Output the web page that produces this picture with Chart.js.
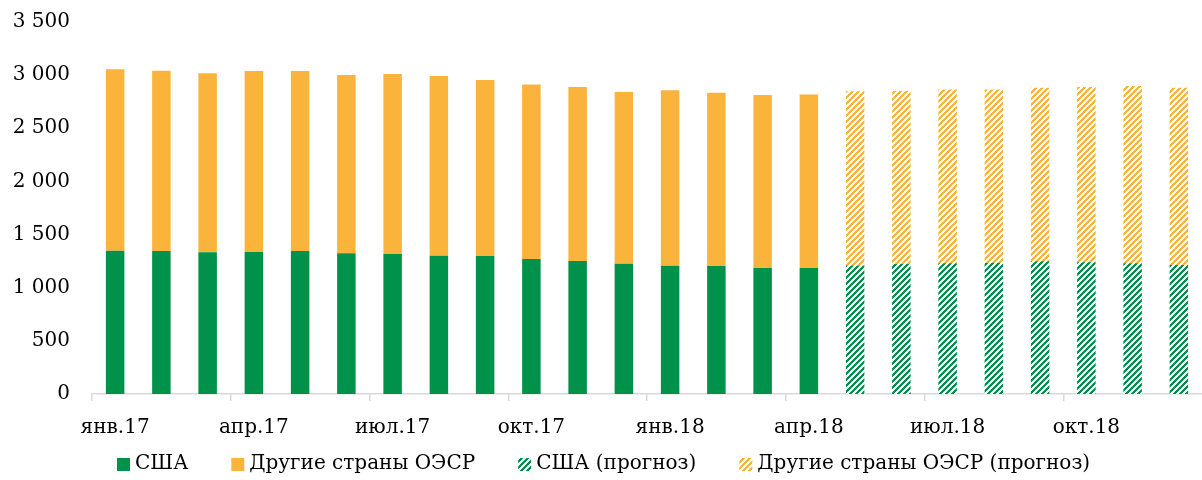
<!DOCTYPE html>
<html>
<head>
<meta charset="utf-8">
<script src="https://cdn.jsdelivr.net/npm/chart.js@4/dist/chart.umd.min.js"></script>
<style>
  html, body { margin: 0; padding: 0; background: #ffffff; }
  #wrap { width: 1202px; height: 480px; }
</style>
</head>
<body>
<div id="wrap"><canvas id="c" width="1202" height="480"></canvas></div>
<script>
const categories = ['янв.17','фев.17','мар.17','апр.17','май.17','июн.17','июл.17','авг.17','сен.17','окт.17','ноя.17','дек.17',
                    'янв.18','фев.18','мар.18','апр.18','май.18','июн.18','июл.18','авг.18','сен.18','окт.18','ноя.18','дек.18'];
const usaActual   = [1348,1345,1333,1336,1345,1324,1317,1301,1298,1270,1251,1226,1207,1204,1185,1185,null,null,null,null,null,null,null,null];
const otherActual = [1707,1697,1684,1703,1694,1677,1693,1691,1656,1643,1637,1615,1650,1631,1628,1634,null,null,null,null,null,null,null,null];
const usaForecast   = [null,null,null,null,null,null,null,null,null,null,null,null,null,null,null,null,1210,1223,1229,1235,1248,1239,1229,1214];
const otherForecast = [null,null,null,null,null,null,null,null,null,null,null,null,null,null,null,null,1638,1628,1637,1631,1633,1649,1668,1667];
const yTicks = [0,500,1000,1500,2000,2500,3000,3500];
const seriesNames = ['США','Другие страны ОЭСР','США (прогноз)','Другие страны ОЭСР (прогноз)'];

const GREEN = '#00924a';
const ORANGE = '#fbb43b';

function hatch(color) {
  const size = 6;
  const c = document.createElement('canvas');
  c.width = size; c.height = size;
  const g = c.getContext('2d');
  const img = g.createImageData(size, size);
  const r = parseInt(color.slice(1,3),16), gg = parseInt(color.slice(3,5),16), b = parseInt(color.slice(5,7),16);
  for (let y = 0; y < size; y++) {
    for (let x = 0; x < size; x++) {
      const i = (y*size + x)*4;
      const on = ((x + y) % size) < 3;
      img.data[i] = on ? r : 255;
      img.data[i+1] = on ? gg : 255;
      img.data[i+2] = on ? b : 255;
      img.data[i+3] = 255;
    }
  }
  g.putImageData(img, 0, 0);
  return document.getElementById('c').getContext('2d').createPattern(c, 'repeat');
}

const FONT = '"DejaVu Serif", serif';
const FONT_SIZE = 20;
const fmt = v => String(v).replace(/\B(?=(\d{3})+(?!\d))/g, ' ');

const bottomLegend = {
  id: 'bottomLegend',
  afterDraw(chart) {
    const ctx = chart.ctx;
    const box = 13, boxGap = 5, itemGap = 43;
    const yc = 464;
    ctx.save();
    ctx.font = FONT_SIZE + 'px ' + FONT;
    ctx.textBaseline = 'middle';
    ctx.textAlign = 'left';
    const items = chart.data.datasets.map(ds => ({ text: ds.label, fill: ds.backgroundColor, w: ctx.measureText(ds.label).width }));
    let total = 0;
    items.forEach((it, i) => { total += box + boxGap + it.w + (i < items.length - 1 ? itemGap : 0); });
    let x = Math.round(604 - total / 2);
    items.forEach(it => {
      ctx.fillStyle = it.fill;
      ctx.fillRect(x, yc - 6, box, box);
      x += box + boxGap;
      ctx.fillStyle = '#000';
      ctx.fillText(it.text, x, yc);
      x += it.w + itemGap;
    });
    ctx.restore();
  }
};

new Chart(document.getElementById('c'), {
  type: 'bar',
  data: {
    labels: categories,
    datasets: [
      { label: seriesNames[0], data: usaActual, backgroundColor: GREEN },
      { label: seriesNames[1], data: otherActual, backgroundColor: ORANGE },
      { label: seriesNames[2], data: usaForecast, backgroundColor: hatch(GREEN) },
      { label: seriesNames[3], data: otherForecast, backgroundColor: hatch(ORANGE) }
    ]
  },
  plugins: [bottomLegend],
  options: {
    responsive: false,
    animation: false,
    devicePixelRatio: 1,
    layout: { padding: { top: 22, right: 0, left: 13, bottom: 43 } },
    datasets: { bar: { categoryPercentage: 1.0, barPercentage: 0.4, borderWidth: 0 } },
    scales: {
      x: {
        stacked: true,
        offset: true,
        afterFit: s => { s.height = 43; s.paddingLeft = 0; s.paddingRight = 0; },
        border: { display: true, color: '#d9d9d9', width: 1.5 },
        grid: {
          offset: true,
          drawOnChartArea: false,
          drawTicks: true,
          tickLength: 7,
          lineWidth: 1.5,
          color: ctx => (ctx.index % 3 === 0 ? '#d9d9d9' : 'rgba(0,0,0,0)')
        },
        ticks: {
          autoSkip: false,
          maxRotation: 0,
          padding: 15,
          color: '#000',
          font: { family: FONT, size: FONT_SIZE },
          callback: (v, i) => (i % 3 === 0 ? categories[i] : '')
        }
      },
      y: {
        stacked: true,
        min: 0,
        max: 3500,
        afterFit: s => { s.width = 79; s.paddingTop = 0; s.paddingBottom = 0; },
        border: { display: false },
        grid: { display: false, drawTicks: false },
        afterBuildTicks: axis => { axis.ticks = yTicks.map(v => ({ value: v })); },
        ticks: {
          padding: 22,
          color: '#000',
          font: { family: FONT, size: FONT_SIZE },
          callback: v => fmt(v)
        }
      }
    },
    plugins: {
      tooltip: { enabled: false },
      legend: { display: false }
    }
  }
});
</script>
</body>
</html>
